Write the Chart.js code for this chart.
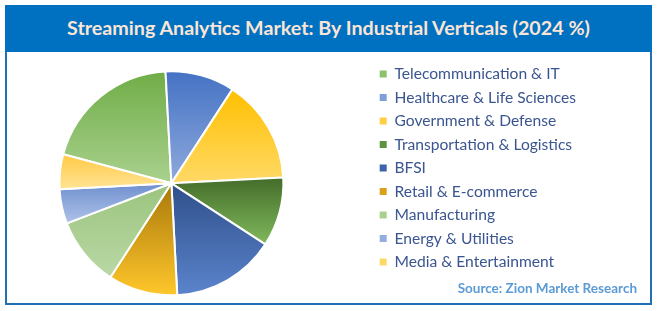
<!DOCTYPE html>
<html>
<head>
<meta charset="utf-8">
<script src="https://cdn.jsdelivr.net/npm/chart.js@4.4.1/dist/chart.umd.min.js"></script>
<style>
  body { margin: 0; background: #fff; width: 658px; height: 311px; position: relative; overflow: hidden; }
  #frame { position: absolute; left: 5px; top: 5px; width: 647px; height: 300px; box-sizing: border-box;
           border: 2px solid #236FB6; }
  #banner { position: absolute; left: 5px; top: 5px; width: 647px; height: 47px; background: #0070C0;
            color: #FBE5D6; font: bold 19.7px Lato, sans-serif; text-align: center; line-height: 46px; }
  #chart { position: absolute; left: -29px; top: 52px; }
  #source { position: absolute; right: 21px; top: 280px; font: bold 13.5px Lato, sans-serif; color: #5B9BD5; }
</style>
</head>
<body>
<div id="frame"></div>
<div id="banner">Streaming Analytics Market: By Industrial Verticals (2024 %)</div>
<canvas id="chart" width="687" height="260"></canvas>
<div id="source">Source: Zion Market Research</div>
<script>
// Streaming analytics market share by industrial vertical, 2024
const categories = [
    'Telecommunication & IT',
    'Healthcare & Life Sciences',
    'Government & Defense',
    'Transportation & Logistics',
    'BFSI',
    'Retail & E-commerce',
    'Manufacturing',
    'Energy & Utilities',
    'Media & Entertainment'
];
const shares = [20, 10, 15, 10, 15, 10, 10, 5, 5];

// slice colours: solid (legend), gradient top and bottom (slices)
const solidColors  = ['#8CC36A', '#7F9FD9', '#FFCE45', '#5E9440', '#3F63A8', '#D9A21A', '#A9D08E', '#94AEE0', '#FFD966'];
const topColors    = ['#70AD47', '#4472C4', '#FFC000', '#446C2A', '#2F4F8A', '#A8780A', '#9BC47E', '#6F8FCF', '#FFCA45'];
const bottomColors = ['#A9D18E', '#8FAADC', '#FFD966', '#80B95C', '#5B84CC', '#FFC72C', '#BAD8A5', '#AFC3E8', '#FFE394'];

// per-slice vertical gradient, like the office chart fill
const sliceGradients = {
    id: 'sliceGradients',
    beforeDatasetsDraw(chart) {
        const ctx = chart.ctx;
        chart.getDatasetMeta(0).data.forEach((arc, i) => {
            const { x, y, startAngle, endAngle, outerRadius } =
                arc.getProps(['x', 'y', 'startAngle', 'endAngle', 'outerRadius'], true);
            const ys = [y, y + Math.sin(startAngle) * outerRadius, y + Math.sin(endAngle) * outerRadius];
            const within = a => {
                let t = a;
                while (t < startAngle) t += 2 * Math.PI;
                while (t - 2 * Math.PI >= startAngle) t -= 2 * Math.PI;
                return t <= endAngle;
            };
            if (within(-Math.PI / 2)) ys.push(y - outerRadius);
            if (within(Math.PI / 2)) ys.push(y + outerRadius);
            const g = ctx.createLinearGradient(0, Math.min(...ys), 0, Math.max(...ys));
            g.addColorStop(0, topColors[i]);
            g.addColorStop(1, bottomColors[i]);
            arc.options.backgroundColor = g;
        });
    }
};

const defaultLabels = Chart.overrides.doughnut.plugins.legend.labels.generateLabels;

new Chart(document.getElementById('chart'), {
    type: 'pie',
    data: {
        labels: categories,
        datasets: [{
            data: shares,
            backgroundColor: solidColors,
            borderColor: '#ffffff',
            borderWidth: 2,
            radius: 112
        }]
    },
    options: {
        responsive: false,
        animation: false,
        events: [],
        rotation: -75,
        layout: { padding: { left: 0, right: 72, top: 6.3, bottom: 3.7 } },
        plugins: {
            legend: {
                position: 'right',
                align: 'start',
                labels: {
                    boxWidth: 7,
                    boxHeight: 7,
                    padding: 7.9,
                    color: '#3A558F',
                    font: { family: 'Lato', size: 15.6 },
                    generateLabels: chart => defaultLabels(chart).map(l => ({ ...l, lineWidth: 0 }))
                }
            },
            tooltip: { enabled: false }
        }
    },
    plugins: [sliceGradients]
});
</script>
</body>
</html>
